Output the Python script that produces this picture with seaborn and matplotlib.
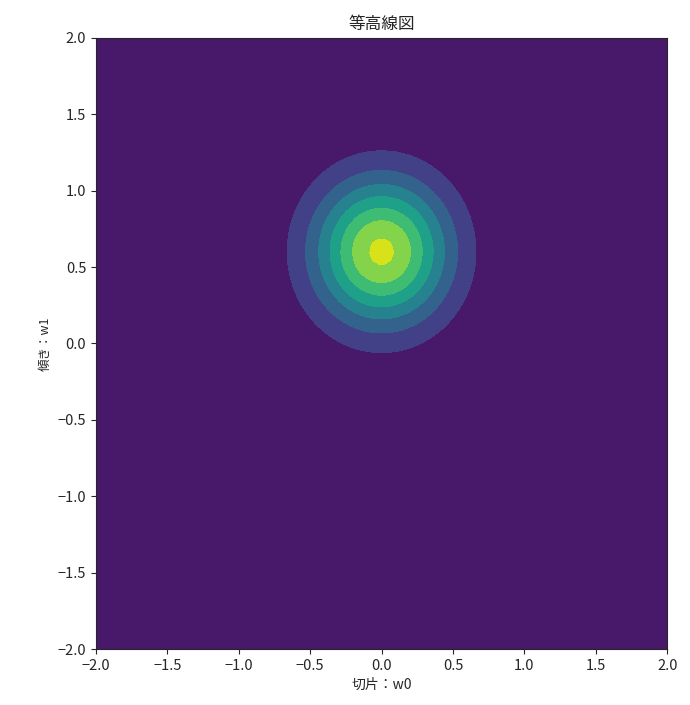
import numpy as np
import matplotlib
matplotlib.use("Agg")
import matplotlib.pyplot as plt
import seaborn as sns

# posterior over (w0, w1): gaussian mean / covariance
mean = np.array([0.0, 0.6])
cov = np.array([[0.11, 0.0],
                [0.0, 0.11]])
w0_range = [-2.0, 2.0]
w1_range = [-2.0, 2.0]
n_grid = 100

title = "等高線図"
xlabel = "切片：w0"
ylabel = "傾き：w1"

sns.set_style("ticks")
plt.rcParams['font.family'] = ['Noto Sans CJK JP', 'DejaVu Sans']

w0 = np.linspace(w0_range[0], w0_range[1], n_grid)
w1 = np.linspace(w1_range[0], w1_range[1], n_grid)
W0, W1 = np.meshgrid(w0, w1)
pos = np.dstack([W0 - mean[0], W1 - mean[1]])
inv = np.linalg.inv(cov)
Z = np.exp(-0.5 * np.einsum('...i,ij,...j->...', pos, inv, pos)) / (2 * np.pi * np.sqrt(np.linalg.det(cov)))

fig = plt.figure(figsize=(6.9, 7.05), dpi=100)
ax = fig.add_axes([0.139, 0.0794, 0.828, 0.867])
ax.contourf(W0, W1, Z, cmap="viridis")
ax.set_xlim(w0_range)
ax.set_ylim(w1_range)
ax.set_title(title, fontsize=12)
ax.set_xlabel(xlabel, fontsize=10)
ax.set_ylabel(ylabel, fontsize=9)
ax.tick_params(labelsize=10.5)

plt.savefig("out.png")
